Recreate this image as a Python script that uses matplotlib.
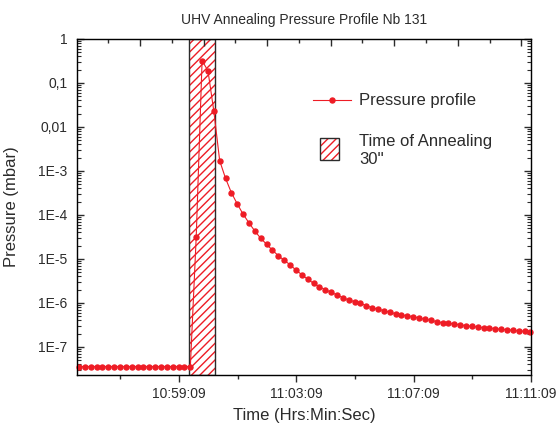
import pandas as pd
import matplotlib
matplotlib.use('Agg')
import matplotlib.pyplot as plt
import matplotlib.dates as mdates
from matplotlib.ticker import FixedLocator, FixedFormatter, LogLocator, NullFormatter, MultipleLocator, AutoMinorLocator
from matplotlib.patches import Rectangle
from matplotlib.lines import Line2D
from matplotlib.legend_handler import HandlerBase

plt.rcParams['font.family'] = ['Liberation Sans', 'DejaVu Sans']

day = '2000-01-01 '

# sampling: one reading every 12 s
times = pd.date_range(day + '10:55:44', periods=78, freq='12s')

# pressure readings (mbar)
pressure = [
    3.6e-8, 3.6e-8, 3.6e-8, 3.6e-8, 3.6e-8, 3.6e-8, 3.6e-8, 3.6e-8, 3.6e-8, 3.6e-8,
    3.6e-8, 3.6e-8, 3.6e-8, 3.6e-8, 3.6e-8, 3.6e-8, 3.6e-8, 3.6e-8, 3.6e-8, 3.6e-8,
    3.2e-5, 0.32, 0.19, 0.023,
    1.71e-3, 6.8e-4, 3.2e-4, 1.78e-4, 1.04e-4, 6.6e-5, 4.3e-5, 2.95e-5, 2.16e-5, 1.58e-5,
    1.19e-5, 9.3e-6, 7.4e-6, 5.6e-6, 4.4e-6, 3.46e-6, 2.81e-6, 2.34e-6, 2.01e-6, 1.75e-6,
    1.52e-6, 1.32e-6, 1.17e-6, 1.07e-6, 9.8e-7, 8.7e-7, 7.8e-7, 7.2e-7, 6.7e-7, 6.15e-7,
    5.7e-7, 5.4e-7, 5.1e-7, 4.9e-7, 4.56e-7, 4.26e-7, 4.05e-7, 3.76e-7, 3.56e-7, 3.46e-7,
    3.33e-7, 3.21e-7, 3.05e-7, 2.95e-7, 2.85e-7, 2.75e-7, 2.7e-7, 2.61e-7, 2.52e-7, 2.47e-7,
    2.4e-7, 2.31e-7, 2.27e-7, 2.23e-7,
]

anneal_start = day + '10:59:29'
anneal_end = day + '11:00:23'

x_tick_labels = ['10:59:09', '11:03:09', '11:07:09', '11:11:09']
y_ticks = [1e-7, 1e-6, 1e-5, 1e-4, 1e-3, 1e-2, 1e-1, 1]
y_tick_labels = ['1E-7', '1E-6', '1E-5', '1E-4', '1E-3', '0,01', '0,1', '1']

red = '#ee1c25'
dark = '#2b2b2b'


class AnnealHandler(HandlerBase):
    # square hatched box for the legend
    def create_artists(self, legend, orig_handle, xdescent, ydescent,
                       width, height, fontsize, trans):
        w = fontsize * 1.15
        h = fontsize * 1.35
        x0 = -xdescent + (width - w) / 2 - 2
        y0 = -ydescent + (height - h) / 2 + 1
        hatch = Rectangle((x0, y0), w, h, facecolor='none', edgecolor=red,
                          hatch='////', lw=0, transform=trans)
        box = Rectangle((x0, y0), w, h, facecolor='none', edgecolor=dark,
                        lw=1, transform=trans)
        return [hatch, box]


fig = plt.figure(figsize=(5.57, 4.24), dpi=100)
ax = fig.add_axes([0.1382, 0.1156, 0.8151, 0.7925])

# annealing window
ax.axvspan(pd.Timestamp(anneal_start), pd.Timestamp(anneal_end), facecolor='none',
           edgecolor=red, hatch='////', lw=0, zorder=1)
ax.axvspan(pd.Timestamp(anneal_start), pd.Timestamp(anneal_end), facecolor='none',
           edgecolor=dark, lw=1, zorder=1.5)

ax.plot(times, pressure, '-o', color=red, lw=0.8, ms=3.6, zorder=3, clip_on=False)
ax.set_yscale('log')

ax.set_xlim(pd.Timestamp(day + '10:55:40'), pd.Timestamp(day + '11:11:09'))
ax.set_ylim(2.31e-8, 1)

xt = [mdates.date2num(pd.Timestamp(day + s)) for s in x_tick_labels]
ax.xaxis.set_major_locator(FixedLocator(xt))
ax.xaxis.set_major_formatter(FixedFormatter(x_tick_labels))
ax.xaxis.set_minor_locator(AutoMinorLocator(2))

ax.yaxis.set_major_locator(FixedLocator(y_ticks))
ax.yaxis.set_major_formatter(FixedFormatter(y_tick_labels))
ax.yaxis.set_minor_locator(LogLocator(base=10, subs=range(2, 10), numticks=20))
ax.yaxis.set_minor_formatter(NullFormatter())

ax.tick_params(axis='x', which='major', direction='out', length=5, width=1,
               labelsize=10, colors=dark, pad=4)
ax.tick_params(axis='x', which='minor', direction='out', length=3, width=1, colors=dark)
ax.tick_params(axis='y', which='major', direction='in', length=5, width=1,
               labelsize=10, colors=dark, right=True, pad=7)
ax.tick_params(axis='y', which='minor', direction='in', length=3, width=0.8,
               colors=dark, right=True)
for s in ax.spines.values():
    s.set_color(dark)
    s.set_linewidth(1)

# top axis ticks (no labels)
top = ax.twiny()
top.set_xlim(-0.99, 6.15)
top.xaxis.set_major_locator(MultipleLocator(1))
top.xaxis.set_minor_locator(MultipleLocator(0.5))
top.tick_params(axis='x', which='major', direction='in', length=5, width=1,
                labeltop=False, colors=dark)
top.tick_params(axis='x', which='minor', direction='in', length=3, width=1, colors=dark)

ax.set_title('UHV Annealing Pressure Profile Nb 131', fontsize=10, color=dark, pad=11)
ax.set_xlabel('Time (Hrs:Min:Sec)', fontsize=12, color=dark, labelpad=5)
ax.set_ylabel('Pressure (mbar)', fontsize=12, color=dark, labelpad=14)

line_h = Line2D([], [], color=red, lw=0.8, marker='o', ms=3.6)
box_h = Rectangle((0, 0), 1, 1)
ax.legend([line_h, box_h], ['Pressure profile', "Time of Annealing\n30''"],
          handler_map={Rectangle: AnnealHandler()},
          loc='upper left', bbox_to_anchor=(0.52, 0.838), frameon=False,
          fontsize=12, numpoints=1, handlelength=2.3, handletextpad=0.45,
          labelspacing=1.55, borderpad=0, borderaxespad=0, labelcolor=dark)

fig.savefig('out.png', dpi=100)
